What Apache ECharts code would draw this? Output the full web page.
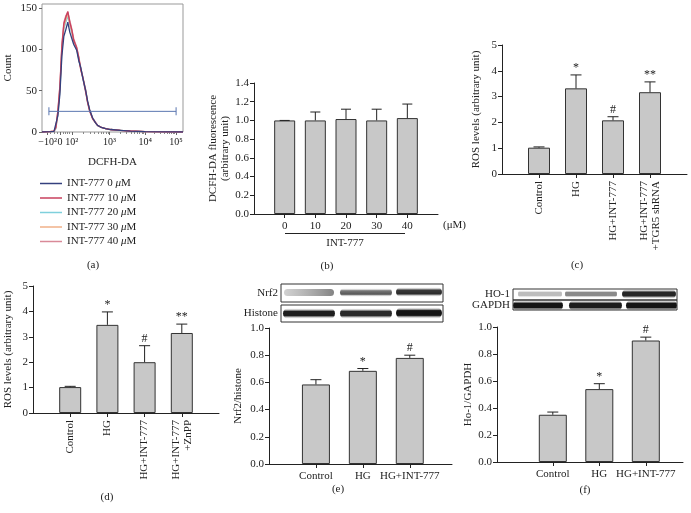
<!DOCTYPE html>
<html><head><meta charset="utf-8">
<script src="https://cdn.jsdelivr.net/npm/echarts@6/dist/echarts.min.js"></script>
<style>html,body{margin:0;padding:0;background:#fff}#c{width:691px;height:513px}</style>
</head><body><div id="c"></div>
<script>
// ---------- Panel (a): flow histogram (x in display channels) ----------
const flowChannels = [0,60,85,99,113,127,141,155,169,183,197,211,225,246,261,275,289,310,324,338,359,380,394,415,451,486,556,627,732,838,1000];
const flowCounts0  = [0,0.5,0.8,3,20,46,92,116,124,133,121,119,106,99,86,78,66,50,37,27,17,11,8,6,4,3,2,1,0.5,0.2,0];
const flowCounts10 = [0,0.6,1,6,26,55,104,131,139,146,133,124,111,102,90,75,66,48,35,25,16,11,8,6,4,3,2,1.2,0.5,0.2,0];
const flowCounts20 = [0,0.4,0.7,4,23,50,98,124,133,140,130,120,108,100,88,77,65,49,36,26,17,11,8,6,4,3,2,1,0.5,0.2,0];
const flowCounts30 = [0,0.5,0.9,5,24,52,101,127,136,143,131,122,110,101,89,76,67,50,36,26,16,11,8,6,4,3,2,1,0.5,0.2,0];
const flowCounts40 = [0,0.5,1,6,27,57,106,133,141,145,135,125,113,103,91,78,67,51,36,27,17,12,8,6,4,3,2,1.2,0.5,0.2,0];
const flowNames = ['INT-777 0 μM','INT-777 10 μM','INT-777 20 μM','INT-777 30 μM','INT-777 40 μM'];
const flowTickValues = [40,128,211,479,732,951];
const flowTickLabels = ['−10²','0','10²','10³','10⁴','10⁵'];
const countTicks = [0,50,100,150];
const gateRange = [49,951];
const gateCount = 25;

// ---------- Panel (b) ----------
const bCats = ['0','10','20','30','40'];
const bMeans = [1.0,1.0,1.015,1.0,1.025];
const bErrs = [0,0.09,0.105,0.12,0.15];

// ---------- Panel (c) ----------
const cCats = ['Control','HG','HG+INT-777','HG+INT-777\n+TGR5 shRNA'];
const cMeans = [1.02,3.32,2.08,3.17];
const cErrs = [0.03,0.52,0.14,0.40];
const cMarks = ['','*','#','**'];

// ---------- Panel (d) ----------
const dCats = ['Control','HG','HG+INT-777','HG+INT-777\n+ZnPP'];
const dMeans = [1.02,3.47,2.0,3.15];
const dErrs = [0.03,0.51,0.65,0.35];
const dMarks = ['','*','#','**'];

// ---------- Panel (e) ----------
const eCats = ['Control','HG','HG+INT-777'];
const eMeans = [0.585,0.685,0.78];
const eErrs = [0.035,0.017,0.02];
const eMarks = ['','*','#'];

// ---------- Panel (f) ----------
const fCats = ['Control','HG','HG+INT-777'];
const fMeans = [0.35,0.54,0.90];
const fErrs = [0.02,0.04,0.025];
const fMarks = ['','*','#'];

const FONT = '"Liberation Serif","DejaVu Serif",serif';
const INK = '#222';

const chart = echarts.init(document.getElementById('c'), null, {renderer:'canvas'});

function grid(left, top, width, height, extra) {
  return Object.assign({left, top, width, height, outerBoundsMode:'none', containLabel:false}, extra || {});
}
function yAxis(gi, max, interval, fmt, name, gap) {
  return {type:'value', gridIndex:gi, min:0, max, interval,
    name, nameLocation:'middle', nameGap:gap,
    nameTextStyle:{fontFamily:FONT, fontSize:11, color:INK, lineHeight:12},
    splitLine:{show:false},
    axisLine:{show:true, lineStyle:{color:INK, width:1}},
    axisTick:{show:true, length:4, lineStyle:{color:INK}},
    axisLabel:{fontFamily:FONT, fontSize:11, color:INK, margin:5, formatter:fmt}};
}
function labelFor(pos, cats) {
  return v => { const i = pos.findIndex(p => Math.abs(p - v) < 1e-6); return i >= 0 ? cats[i] : ''; };
}
function xAxis(gi, max, pos, cats, rotate) {
  return {type:'value', gridIndex:gi, position:'bottom', min:0, max,
    splitLine:{show:false},
    axisLine:{show:true, onZero:false, lineStyle:{color:INK, width:1}},
    axisTick:{show:true, length:4, customValues:pos, lineStyle:{color:INK}},
    axisLabel:{customValues:pos, rotate:rotate||0, margin:rotate?7:6, fontFamily:FONT, fontSize:11, color:INK, lineHeight:12,
      hideOverlap:false, showMinLabel:true, showMaxLabel:true, formatter:labelFor(pos, cats)}};
}
function bars(gi, pos, means, width) {
  return {type:'bar', xAxisIndex:gi, yAxisIndex:gi, silent:true, barWidth:width,
    data: pos.map((p,i) => [p, means[i]]),
    itemStyle:{color:'#c8c8c8', borderColor:'#333', borderWidth:1}, z:2};
}
function errs(gi, pos, means, errs, marks, capW) {
  return {type:'custom', xAxisIndex:gi, yAxisIndex:gi, silent:true, z:3,
    data: pos.map((p,i) => [p, means[i], errs[i]]),
    renderItem:(params, api) => {
      const x = api.value(0), y = api.value(1), e = api.value(2);
      const a = api.coord([x, y]), b = api.coord([x, y + e]);
      const ch = [
        {type:'line', shape:{x1:a[0], y1:a[1], x2:b[0], y2:b[1]}, style:{stroke:INK, lineWidth:1}},
        {type:'line', shape:{x1:b[0]-capW/2, y1:b[1], x2:b[0]+capW/2, y2:b[1]}, style:{stroke:INK, lineWidth:1}}
      ];
      const t = marks ? marks[params.dataIndex] : '';
      if (t) ch.push({type:'text', x:b[0], y:b[1]-1, style:{text:t, fill:INK, fontFamily:FONT, fontSize:12, align:'center', verticalAlign:'bottom'}});
      return {type:'group', children:ch};
    }};
}
const f1 = v => v.toFixed(1);
const f0 = v => String(v);

// positions (layout)
const bPos = bCats.map((_, i) => i + 1);
const cPos = cCats.map((_, i) => i + 1);
const dPos = dCats.map((_, i) => i + 1);
const ePos = eCats.map((_, i) => i + 1);
const fPos = fCats.map((_, i) => i + 1.2);

// minor ticks for panel (a) log display
const flowMinor = [];
for (let d = 2; d < 5; d++) {
  const p0 = flowTickValues[d], p1 = flowTickValues[d+1];
  for (let k = 2; k <= 9; k++) flowMinor.push(p0 + (p1 - p0) * Math.log10(k));
}
[62,84,106,150,165,180,195].forEach(v => flowMinor.push(v));
// labels split across two axes so close neighbours are not auto-hidden
const flowLabelsA = flowTickValues.filter((_, i) => i !== 1);
const flowLabelsB = [flowTickValues[1]];

const flowColors = ['#34407e','#c8405e','#7fd0dc','#f0b088','#d98a98'];
const flowSets = [flowCounts0, flowCounts10, flowCounts20, flowCounts30, flowCounts40];
const drawOrder = [2,3,4,1,0];

const series = [];
drawOrder.forEach(k => {
  series.push({type:'line', name:flowNames[k], xAxisIndex:0, yAxisIndex:0, symbol:'none', silent:true,
    data: flowChannels.map((c, i) => [c, flowSets[k][i]]),
    lineStyle:{color:flowColors[k], width:1.3}, itemStyle:{color:flowColors[k]}, z:2});
});
series.push({type:'line', name:'gate', xAxisIndex:0, yAxisIndex:0, silent:true,
  data:[[gateRange[0], gateCount],[gateRange[1], gateCount]],
  symbol:'rect', symbolSize:[1,8], lineStyle:{color:'#5a76b0', width:1}, itemStyle:{color:'#5a76b0'}, z:4});

series.push(bars(1, bPos, bMeans, 21), errs(1, bPos, bMeans, bErrs, null, 10));
series.push(bars(2, cPos, cMeans, 22), errs(2, cPos, cMeans, cErrs, cMarks, 11));
series.push(bars(3, dPos, dMeans, 22), errs(3, dPos, dMeans, dErrs, dMarks, 11));
series.push(bars(4, ePos, eMeans, 28), errs(4, ePos, eMeans, eErrs, eMarks, 11));
series.push(bars(5, fPos, fMeans, 28), errs(5, fPos, fMeans, fErrs, fMarks, 11));

// panel (a) owns two x axes -> shift x indices of bar panels by 1
series.forEach(s => { if (s.type !== 'line') s.xAxisIndex = s.xAxisIndex + 1; });

const flowFmt = labelFor(flowTickValues, flowTickLabels);
const xAxes = [
  {type:'value', gridIndex:0, position:'bottom', min:0, max:1000, splitLine:{show:false},
   axisLine:{show:false}, axisTick:{show:true, length:3, customValues:flowTickValues, lineStyle:{color:'#666'}},
   axisLabel:{customValues:flowLabelsA, fontFamily:FONT, fontSize:10, color:INK, margin:5,
     hideOverlap:false, showMinLabel:true, showMaxLabel:true, formatter:flowFmt},
   name:'DCFH-DA', nameLocation:'middle', nameGap:25, nameTextStyle:{fontFamily:FONT, fontSize:11, color:INK}},
  {type:'value', gridIndex:0, position:'bottom', min:0, max:1000, splitLine:{show:false}, axisLine:{show:false},
   axisTick:{show:true, length:2, customValues:flowMinor, lineStyle:{color:'#888'}},
   axisLabel:{customValues:flowLabelsB, fontFamily:FONT, fontSize:10, color:INK, margin:5,
     showMinLabel:true, showMaxLabel:true, formatter:flowFmt}},
  xAxis(1, 6, bPos, bCats, 0),
  xAxis(2, 5, cPos, cCats, 90),
  xAxis(3, 5, dPos, dCats, 90),
  xAxis(4, 3.9, ePos, eCats, 0),
  xAxis(5, 4, fPos, fCats, 0)
];
const yAxes = [
  {type:'value', gridIndex:0, position:'left', min:0, max:155, splitLine:{show:false}, axisLine:{show:false},
   axisTick:{show:true, length:3, customValues:countTicks, lineStyle:{color:'#666'}},
   axisLabel:{customValues:countTicks, fontFamily:FONT, fontSize:11, color:INK, margin:5},
   name:'Count', nameLocation:'middle', nameGap:28, nameTextStyle:{fontFamily:FONT, fontSize:11, color:INK}},
  yAxis(1, 1.4, 0.2, f1, 'DCFH-DA fluorescence\n(arbitrary unit)', 17),
  yAxis(2, 5, 1, f0, 'ROS levels (arbitrary unit)', 20),
  yAxis(3, 5, 1, f0, 'ROS levels (arbitrary unit)', 19),
  yAxis(4, 1.0, 0.2, f1, 'Nrf2/histone', 25),
  yAxis(5, 1.0, 0.2, f1, 'Ho-1/GAPDH', 18)
];

// ----- western blot images (decorative) -----
function band(x, y, w, h, color, color2) {
  return {type:'rect', shape:{x, y, width:w, height:h, r:h/2}, silent:true, z:10,
    style:{fill:new echarts.graphic.LinearGradient(0,0,0,1,[
      {offset:0, color:'rgba(255,255,255,0)'},
      {offset:0.3, color:color},
      {offset:0.7, color:color2 || color},
      {offset:1, color:'rgba(255,255,255,0)'}])}};
}
function hband(x, y, w, h, c1, c2) {
  return {type:'rect', shape:{x, y, width:w, height:h, r:h/2}, silent:true, z:10,
    style:{fill:new echarts.graphic.LinearGradient(0,0,1,0,[{offset:0,color:c1},{offset:1,color:c2}]), opacity:0.9}};
}
function box(x, y, w, h) {
  return {type:'rect', shape:{x, y, width:w, height:h}, silent:true, z:11, style:{fill:'none', stroke:'#333', lineWidth:1}};
}
function txt(x, y, text, align, size) {
  return {type:'text', x, y, silent:true, z:12, style:{text, fill:INK, fontFamily:FONT, fontSize:size||11, align:align||'center', verticalAlign:'middle'}};
}
const graphics = [
  txt(93,265,'(a)'), txt(327,266,'(b)'), txt(577,265,'(c)'),
  txt(107,497,'(d)'), txt(338,489,'(e)'), txt(585,490,'(f)'),
  txt(443,225,'(μM)','left'),
  {type:'line', shape:{x1:285, y1:233.5, x2:405, y2:233.5}, silent:true, style:{stroke:INK, lineWidth:1}},
  txt(345,243,'INT-777'),
  txt(278,293,'Nrf2','right'), txt(278,313.5,'Histone','right'),
  hband(284,289,50,7,'rgba(170,170,170,0.6)','rgba(110,110,110,0.95)'),
  band(340,288,52,9,'#777','#555'),
  band(396,287,46,10,'#3a3a3a','#2a2a2a'),
  band(283,308,52,11,'#1e1e1e'),
  band(340,308,52,11,'#2a2a2a'),
  band(396,307,46,12,'#151515'),
  box(281,284,162,18), box(281,305,162,17),
  txt(510,294,'HO-1','right'), txt(510,305.5,'GAPDH','right'),
  band(518,290,44,8,'#bdbdbd'),
  band(565,290,52,8,'#8a8a8a'),
  band(622,289,54,10,'#262626'),
  band(513,300,50,11,'#151515'),
  band(569,300,53,11,'#1c1c1c'),
  band(626,300,51,11,'#151515'),
  box(513,289,164,11), box(513,300,164,10)
];

const option = {
  animation:false,
  backgroundColor:'#fff',
  textStyle:{fontFamily:FONT},
  grid:[
    grid(42,4,141,128,{show:true, borderColor:'#999', borderWidth:1, backgroundColor:'transparent'}),
    grid(254,83,184,131),
    grid(502,45,185,129),
    grid(33,286,186,127),
    grid(269,328,183,136),
    grid(497,327,186,135)
  ],
  legend:{show:true, data:flowNames, orient:'vertical', left:40, top:178, padding:0, itemWidth:22, itemHeight:11, itemGap:3.5,
    icon:'path://M0,4.5 L22,4.5 L22,6 L0,6 Z',
    textStyle:{fontFamily:FONT, fontSize:11, color:INK, lineHeight:11,
      rich:{i:{fontStyle:'italic', fontFamily:FONT, fontSize:11, color:INK}}},
    formatter:n => n.replace('μ','{i|μ}'), selectedMode:false},
  xAxis:xAxes,
  yAxis:yAxes,
  series,
  graphic:graphics
};
chart.setOption(option);
</script></body></html>
